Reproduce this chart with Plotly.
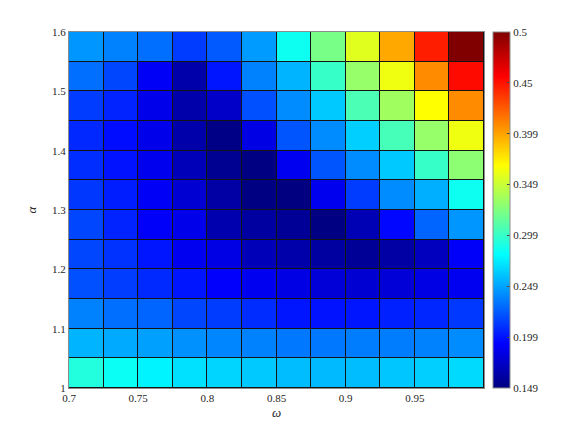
import plotly.graph_objects as go

# omega (x) cell centers and alpha (y) cell centers
omega = [0.7125, 0.7375, 0.7625, 0.7875, 0.8125, 0.8375,
         0.8625, 0.8875, 0.9125, 0.9375, 0.9625, 0.9875]
alpha = [1.025, 1.075, 1.125, 1.175, 1.225, 1.275,
         1.325, 1.375, 1.425, 1.475, 1.525, 1.575]

# values, one list per alpha row (bottom to top)
row_1025 = [0.292, 0.284, 0.277, 0.270, 0.266, 0.262, 0.258, 0.257, 0.258, 0.261, 0.264, 0.268]
row_1075 = [0.2548, 0.2514, 0.2479, 0.2428, 0.2393, 0.2376, 0.2342, 0.2342, 0.2359, 0.2359, 0.2376, 0.2411]
row_1125 = [0.2376, 0.2307, 0.2273, 0.2170, 0.2135, 0.208, 0.200, 0.199, 0.200, 0.204, 0.206, 0.212]
row_1175 = [0.2204, 0.214, 0.207, 0.200, 0.192, 0.188, 0.1835, 0.1791, 0.1774, 0.1791, 0.1835, 0.188]
row_1225 = [0.2170, 0.210, 0.200, 0.188, 0.184, 0.1688, 0.1636, 0.1602, 0.1567, 0.1619, 0.1705, 0.191]
row_1275 = [0.2170, 0.205, 0.191, 0.186, 0.1654, 0.1602, 0.1567, 0.1499, 0.1671, 0.195, 0.2273, 0.2445]
row_1325 = [0.2118, 0.203, 0.190, 0.1774, 0.1619, 0.1499, 0.149, 0.187, 0.2135, 0.2411, 0.2531, 0.285]
row_1375 = [0.2084, 0.199, 0.187, 0.1688, 0.155, 0.150, 0.188, 0.2221, 0.2411, 0.262, 0.2995, 0.3288]
row_1425 = [0.2067, 0.197, 0.186, 0.1636, 0.151, 0.184, 0.2221, 0.2411, 0.264, 0.3047, 0.3322, 0.3632]
row_1475 = [0.2135, 0.205, 0.186, 0.1636, 0.174, 0.2204, 0.2411, 0.262, 0.3064, 0.3356, 0.3684, 0.4080]
row_1525 = [0.2307, 0.2170, 0.190, 0.1636, 0.200, 0.2376, 0.2548, 0.2995, 0.3322, 0.3632, 0.4080, 0.4528]
row_1575 = [0.2445, 0.2376, 0.2307, 0.2135, 0.2239, 0.2462, 0.285, 0.322, 0.358, 0.398, 0.446, 0.500]

z = [row_1025, row_1075, row_1125, row_1175, row_1225, row_1275,
     row_1325, row_1375, row_1425, row_1475, row_1525, row_1575]

x_ticks = [0.7, 0.75, 0.8, 0.85, 0.9, 0.95]
x_ticktext = ["0.7", "0.75", "0.8", "0.85", "0.9", "0.95"]
y_ticks = [1, 1.1, 1.2, 1.3, 1.4, 1.5, 1.6]
y_ticktext = ["1", "1.1", "1.2", "1.3", "1.4", "1.5", "1.6"]
cb_min, cb_max = 0.149, 0.5
cb_ticktext = ["0.149", "0.199", "0.249", "0.299", "0.349", "0.399", "0.45", "0.5"]
cb_ticks = [cb_min + i * (cb_max - cb_min) / 7 for i in range(8)]

jet = [
    [0.0, "rgb(0,0,128)"],
    [0.125, "rgb(0,0,255)"],
    [0.375, "rgb(0,255,255)"],
    [0.625, "rgb(255,255,0)"],
    [0.875, "rgb(255,0,0)"],
    [1.0, "rgb(128,0,0)"],
]

font_family = "Liberation Serif"
txt_color = "#262626"

fig = go.Figure(go.Heatmap(
    x=omega, y=alpha, z=z,
    colorscale=jet, zmin=cb_min, zmax=cb_max,
    xgap=1, ygap=1,
    colorbar=dict(
        x=1.0217, xanchor="left", y=0.5, yanchor="middle",
        len=1.0, lenmode="fraction", thickness=17,
        xpad=0, ypad=0,
        outlinewidth=1, outlinecolor="#8c8c8c",
        tickvals=cb_ticks, ticktext=cb_ticktext,
        ticks="inside", ticklen=3, tickcolor="#444",
        tickfont=dict(family=font_family, size=11, color=txt_color),
    ),
))

# page body has an 8px margin, so the figure is 8px smaller than the window
fig.update_layout(
    width=573, height=428,
    margin=dict(l=61, r=97, t=24, b=48),
    paper_bgcolor="white",
    plot_bgcolor="#141414",
    font=dict(family=font_family, size=11, color=txt_color),
    xaxis=dict(
        range=[0.7, 1.0], tickvals=x_ticks, ticktext=x_ticktext,
        showgrid=False, zeroline=False, showline=True, mirror=True,
        linecolor="#8c8c8c", linewidth=1, ticks="",
        tickfont=dict(family=font_family, size=11, color=txt_color),
        title=dict(text="<i>ω</i>", standoff=4,
                   font=dict(family=font_family, size=13, color=txt_color)),
    ),
    yaxis=dict(
        range=[1.0, 1.6], tickvals=y_ticks, ticktext=y_ticktext,
        showgrid=False, zeroline=False, showline=True, mirror=True,
        linecolor="#8c8c8c", linewidth=1, ticks="",
        tickfont=dict(family=font_family, size=11, color=txt_color),
        title=dict(text="<i>α</i>", standoff=12,
                   font=dict(family=font_family, size=13, color=txt_color)),
    ),
)

fig.write_html("out.html")
